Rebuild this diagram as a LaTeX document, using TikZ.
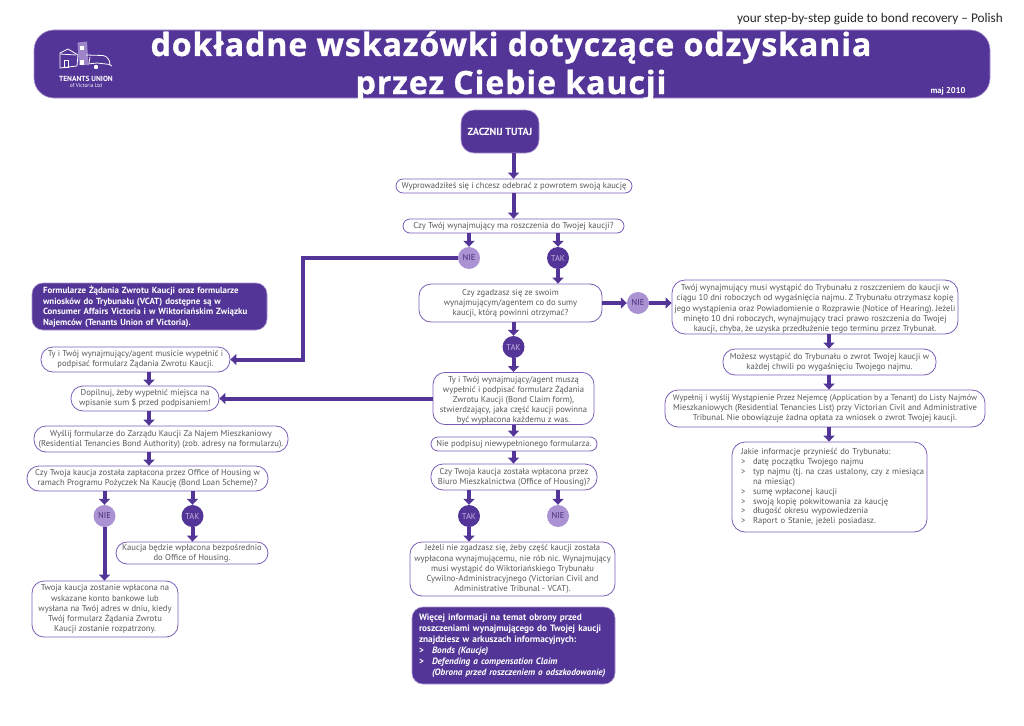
\documentclass[tikz,border=0pt]{standalone}
\usepackage{fontspec}
\setmainfont{PT Sans}
\newfontfamily\titlefont[LetterSpace=3,BoldFeatures={FakeBold=1}]{Open Sans}
\newfontfamily\topfont{Carlito}
\usetikzlibrary{arrows.meta}
\definecolor{pur}{HTML}{523596}
\definecolor{lil}{HTML}{AB93D3}
\definecolor{edge}{HTML}{7A5DB8}
\definecolor{txt}{HTML}{58595B}
\AtBeginDocument{\frenchspacing}
\tikzset{
  box/.style={draw=edge,line width=0.8pt,fill=white,rounded corners=#1,text=txt,align=center,inner xsep=0pt,inner ysep=0pt,font=\fontsize{8.6}{10.1}\selectfont},
  box/.default=11pt,
  darkbox/.style={draw=lil,line width=0.6pt,fill=pur,rounded corners=#1,text=white,inner ysep=0pt,font=\fontsize{8.9}{11}\selectfont\bfseries},
  darkbox/.default=11pt,
  nie/.style={circle,fill=lil,minimum size=22pt,inner sep=0pt,text=pur!80!black,font=\fontsize{8.5}{10}\selectfont},
  tak/.style={circle,fill=pur,minimum size=22pt,inner sep=0pt,text=lil!70!white,font=\fontsize{8.5}{10}\selectfont},
  arr/.style={draw=pur,line width=4pt,-{Triangle[width=11pt,length=6pt]}},
  logoline/.style={draw=white,line width=0.8pt,line join=round}
}
\newcommand{\bx}[6][box]{\node[#1,minimum width={(#5-#3)*1pt},minimum height={(#6-#4)*1pt}] (#2) at ({(#3+#5)/2},{(#4+#6)/2})}
\newcommand{\tallfirst}{\rule{0pt}{10pt}}
\begin{document}
\begin{tikzpicture}[x=1pt,y=-1pt]
\useasboundingbox (0,0) rectangle (1024,725);
\coordinate (mc) at (513.5,0);
\coordinate (lc) at (149,0);
\coordinate (rc) at (829,0);
\coordinate (turn) at (303,0);
% header
\node[anchor=east,text=black!85,font=\topfont\fontsize{13.25}{15}\selectfont,inner sep=0pt] (top) at (1003,19) {your step-by-step guide to bond recovery – Polish};
\bx[darkbox=20pt]{head}{34}{30}{990}{98} {};
\node[anchor=base,text=white,font=\titlefont\fontsize{32}{38}\selectfont\bfseries,inner sep=0pt] (t1) at (511,56) {dokładne wskazówki dotyczące odzyskania};
\node[anchor=base,text=white,font=\titlefont\fontsize{32}{38}\selectfont\bfseries,inner sep=0pt] (t2) at (511,94) {przez Ciebie kaucji};
\node[text=white,font=\fontsize{8.5}{9}\selectfont\bfseries,inner sep=0pt] (maj) at (948,91) {maj 2010};
% logo
\fill[lil!85!pur] (77.5,42.5) -- (87,41.5) -- (88.5,65) -- (79,65) -- cycle;
\fill[white] (79.5,46) rectangle (84,50.5);
\fill[white] (80,60) rectangle (84,64.5);
\draw[logoline] (60,53) -- (68,49) -- (78,55) -- (77,66) -- (60,68) -- cycle;
\draw[logoline] (60,54) -- (76,55);
\draw[logoline] (64,60) rectangle (68,67);
\draw[logoline] (86,55) -- (103,55.5) .. controls (107,56) and (110,60) .. (110,64.5) -- (97,63) -- (88,64);
\draw[logoline] (90,57) -- (89,63);
\draw[logoline] (110,65) -- (112,66);
\fill[white] (96,67) circle (2.2);
\node[text=white,font=\fontsize{7.4}{8}\selectfont\bfseries,inner sep=0pt] (logo1) at (86,78.5) {TENANTS UNION};
\node[text=white,font=\fontsize{5.4}{6}\selectfont,inner sep=0pt] (logo2) at (86,85.5) {of Victoria Ltd};
% centre column
\bx[darkbox=13pt]{start}{461}{110}{539}{153} {\fontsize{10.3}{12}\selectfont ZACZNIJ TUTAJ};
\bx[box=7pt]{q0}{396}{179}{632}{193} {Wyprowadziłeś się i chcesz odebrać z powrotem swoją kaucję};
\bx[box=7pt]{q1}{403}{219}{624}{233} {Czy Twój wynajmujący ma roszczenia do Twojej kaucji?};
\node[nie] (n1) at (469,258) {NIE};
\node[tak] (t3) at (558,258) {TAK};
\bx[box=12pt]{z}{419}{284}{602}{322} {Czy zgadzasz się ze swoim\\wynajmującym/agentem co do sumy\\kaucji, którą powinni otrzymać?};
\node[nie] (n2) at (638,303) {NIE};
\node[tak] (t4) at (513.5,347) {TAK};
\bx[box=12pt]{u}{433}{374}{594}{423} {\fontsize{8.6}{9.7}\selectfont\tallfirst Ty i Twój wynajmujący/agent muszą\\wypełnić i podpisać formularz Żądania\\Zwrotu Kaucji (Bond Claim form),\\stwierdzający, jaka część kaucji powinna\\być wypłacona każdemu z was.};
\bx[box=7pt]{p}{431}{437}{597}{451} {Nie podpisuj niewypełnionego formularza.};
\bx[box=12pt]{w}{431}{464}{597}{490} {Czy Twoja kaucja została wpłacona przez\\Biuro Mieszkalnictwa (Office of Housing)?};
\node[tak] (t5) at (469,516) {TAK};
\node[nie] (n3) at (558,516) {NIE};
\bx[box=12pt]{j}{410}{542}{615}{596} {Jeżeli nie zgadzasz się, żeby część kaucji została\\wypłacona wynajmującemu, nie rób nic. Wynajmujący\\musi wystąpić do Wiktoriańskiego Trybunału\\Cywilno-Administracyjnego (Victorian Civil and\\Administrative Tribunal - VCAT).};
\node[darkbox=11pt,inner xsep=7pt,text width=189pt,align=left,minimum height=77pt,font=\fontsize{9.2}{11}\selectfont\bfseries] (more) at (513.5,645.5) {Więcej informacji na temat obrony przed\\roszczeniami wynajmującego do Twojej kaucji\\znajdziesz w arkuszach informacyjnych:\\\makebox[13pt][l]{>}\textit{Bonds (Kaucje)}\\\makebox[13pt][l]{>}\textit{Defending a compensation Claim}\\\hspace*{13pt}\textit{(Obrona przed roszczeniem o odszkodowanie)}};
% left column
\node[darkbox=11pt,inner xsep=11pt,text width=213pt,align=left,minimum height=47pt,font=\fontsize{8.9}{10.6}\selectfont\bfseries] (form) at (149.5,306.5) {Formularze Żądania Zwrotu Kaucji oraz formularze\\wniosków do Trybunału (VCAT) dostępne są w\\Consumer Affairs Victoria i w Wiktoriańskim Związku\\Najemców (Tenants Union of Victoria).};
\bx[box=12pt]{a}{41}{347}{230}{372} {Ty i Twój wynajmujący/agent musicie wypełnić i\\podpisać formularz Żądania Zwrotu Kaucji.};
\bx[box=12pt]{b}{71}{386}{219}{411} {Dopilnuj, żeby wypełnić miejsca na\\wpisanie sum \$ przed podpisaniem!};
\bx[box=12pt]{c}{34}{426}{288}{452} {Wyślij formularze do Zarządu Kaucji Za Najem Mieszkaniowy\\(Residential Tenancies Bond Authority) (zob. adresy na formularzu).};
\bx[box=12pt]{d}{27}{466}{268}{491} {Czy Twoja kaucja została zapłacona przez Office of Housing w\\ramach Programu Pożyczek Na Kaucję (Bond Loan Scheme)?};
\node[nie] (n4) at (104.5,516) {NIE};
\node[tak] (t6) at (192.5,516) {TAK};
\bx[box=11pt]{e}{116}{542}{268}{564} {Kaucja będzie wpłacona bezpośrednio\\do Office of Housing.};
\bx[box=12pt]{f}{32}{581}{178}{637} {\fontsize{8.6}{9.8}\selectfont Twoja kaucja zostanie wpłacona na\\wskazane konto bankowe lub\\wysłana na Twój adres w dniu, kiedy\\Twój formularz Żądania Zwrotu\\Kaucji zostanie rozpatrzony.};
% right column
\bx[box=13pt]{r1}{672}{280}{958}{334} {\tallfirst Twój wynajmujący musi wystąpić do Trybunału z roszczeniem do kaucji w\\ciągu 10 dni roboczych od wygaśnięcia najmu. Z Trybunału otrzymasz kopię\\jego wystąpienia oraz Powiadomienie o Rozprawie (Notice of Hearing). Jeżeli\\minęło 10 dni roboczych, wynajmujący traci prawo roszczenia do Twojej\\kaucji, chyba, że uzyska przedłużenie tego terminu przez Trybunał.};
\bx[box=12pt]{r2}{723}{349}{936}{375} {Możesz wystąpić do Trybunału o zwrot Twojej kaucji w\\każdej chwili po wygaśnięciu Twojego najmu.};
\bx[box=13pt]{r3}{665}{390}{985}{427} {\fontsize{8.2}{10.1}\selectfont Wypełnij i wyślij Wystąpienie Przez Nejemcę (Application by a Tenant) do Listy Najmów\\Mieszkaniowych (Residential Tenancies List) przy Victorian Civil and Administrative\\Tribunal. Nie obowiązuje żadna opłata za wniosek o zwrot Twojej kaucji.};
\node[box=13pt,inner xsep=9pt,text width=177pt,align=left,minimum height=90pt,font=\fontsize{8.6}{9.9}\selectfont] (r4) at (829.5,487) {Jakie informacje przynieść do Trybunału:\\\makebox[12pt][l]{>}datę początku Twojego najmu\\\mbox{\makebox[12pt][l]{>}typ najmu (tj. na czas ustalony, czy z miesiąca}\\\hspace*{12pt}na miesiąc)\\\makebox[12pt][l]{>}sumę wpłaconej kaucji\\\makebox[12pt][l]{>}swoją kopię pokwitowania za kaucję\\\makebox[12pt][l]{>}długość okresu wypowiedzenia\\\makebox[12pt][l]{>}Raport o Stanie, jeżeli posiadasz.};
% connectors
\draw[arr] (mc |- start.south) -- (mc |- q0.north);
\draw[arr] (mc |- q0.south) -- (mc |- q1.north);
\draw[arr] (n1 |- q1.south) -- (n1.north);
\draw[arr] (t3 |- q1.south) -- (t3.north);
\draw[arr] (t3.south) -- (t3 |- z.north);
\draw[arr] (n1.west) -| (turn |- a.east) -- (a.east);
\draw[arr] (z.east) -- (n2.west);
\draw[arr] (n2.east) -- (n2.east -| r1.west);
\draw[arr] (t4 |- z.south) -- (t4.north);
\draw[arr] (t4.south) -- (t4 |- u.north);
\draw[arr] (u.west |- b.east) -- (b.east);
\draw[arr] (mc |- u.south) -- (mc |- p.north);
\draw[arr] (mc |- p.south) -- (mc |- w.north);
\draw[arr] (t5 |- w.south) -- (t5.north);
\draw[arr] (n3 |- w.south) -- (n3.north);
\draw[arr] (t5.south) -- (t5 |- j.north);
\draw[arr] (lc |- a.south) -- (lc |- b.north);
\draw[arr] (lc |- b.south) -- (lc |- c.north);
\draw[arr] (lc |- c.south) -- (lc |- d.north);
\draw[arr] (n4 |- d.south) -- (n4.north);
\draw[arr] (t6 |- d.south) -- (t6.north);
\draw[arr] (t6.south) -- (t6 |- e.north);
\draw[arr] (n4.south) -- (n4 |- f.north);
\draw[arr] (rc |- r1.south) -- (rc |- r2.north);
\draw[arr] (rc |- r2.south) -- (rc |- r3.north);
\draw[arr] (rc |- r3.south) -- (rc |- r4.north);
\end{tikzpicture}
\end{document}
